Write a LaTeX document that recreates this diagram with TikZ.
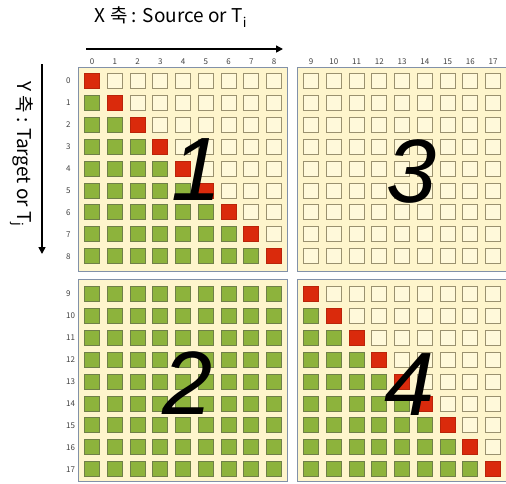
\documentclass[tikz,border=0pt]{standalone}
\usepackage{fontspec}
\newfontfamily\krfont{Noto Sans CJK KR}
\newfontfamily\bigfont{Liberation Sans}
\usetikzlibrary{arrows.meta}

\definecolor{cellgreen}{HTML}{8DB33C}
\definecolor{cellred}{HTML}{DA2A0C}
\definecolor{cellcream}{HTML}{FFF9DA}
\definecolor{blockbg}{HTML}{FEF5CC}
\definecolor{cellline}{HTML}{9A916F}
\definecolor{greenline}{HTML}{6F8048}
\definecolor{blockline}{HTML}{8291A8}

\begin{document}
\begin{tikzpicture}[
  x=1pt,y=-1pt,
  cell/.style={draw,minimum size=15pt,inner sep=0pt,line width=1pt},
  emptycell/.style={cell,draw=cellline,fill=cellcream},
  lowcell/.style={cell,draw=greenline,fill=cellgreen},
  diagcell/.style={cell,draw=cellred!85!black,fill=cellred},
  block/.style={draw=blockline,fill=blockbg,line width=0.8pt},
  idx/.style={font=\krfont\fontsize{8}{8}\selectfont,text=black!75,inner sep=0pt},
  axis/.style={-{Triangle[length=7pt,width=7pt]},line width=1.6pt},
  axislabel/.style={font=\krfont\fontsize{19}{19}\selectfont,inner sep=0pt},
  bignum/.style={font=\bigfont\itshape\fontsize{90}{90}\selectfont,inner sep=0pt}
]
\useasboundingbox (0,0) rectangle (506,483);
\clip (0,0) rectangle (506,483);

% four blocks of the matrix
\foreach \bx in {0,1}
  \foreach \by in {0,1}
    \draw[block] ({78+219*\bx},{67+212*\by}) rectangle ({287+219*\bx},{271+210*\by});

% cells: diagonal, below the diagonal, above it
\foreach \bx in {0,1}
  \foreach \by in {0,1}
    \foreach \i in {0,...,8}
      \foreach \j in {0,...,8} {
        \pgfmathtruncatemacro{\cc}{9*\bx+\i}
        \pgfmathtruncatemacro{\rr}{9*\by+\j}
        \ifnum\rr=\cc \def\kind{diagcell}\else\ifnum\rr>\cc \def\kind{lowcell}\else\def\kind{emptycell}\fi\fi
        \node[\kind] (c\rr-\cc) at ({92+219*\bx+22.75*\i},{81+213*\by+21.9*\j}) {};
      }

% indices
\foreach \n in {0,...,17} {
  \node[idx,anchor=south] (xl\n) at ([yshift=8pt]c0-\n.north) {\n};
  \node[idx,anchor=west] (yl\n) at ([xshift=-18pt]c\n-0.west) {\n};
}

% axes
\coordinate (xs) at (86,49);
\coordinate (xe) at (283,49);
\coordinate (ys) at (42,64);
\coordinate (ye) at (42,254);
\draw[axis] (xs) -- (xe);
\draw[axis] (ys) -- (ye);
\node[axislabel] (xt) at (171,17) {X 축 : Source or T\textsubscript{i}};
\node[axislabel,rotate=-90] (yt) at (22,154) {Y 축 : Target or T\textsubscript{j}};

% block numbers
\node[bignum] (n1) at (197,170) {1};
\node[bignum] (n2) at (188,383) {2};
\node[bignum] (n3) at (412,172) {3};
\node[bignum] (n4) at (410,385) {4};
\end{tikzpicture}
\end{document}
